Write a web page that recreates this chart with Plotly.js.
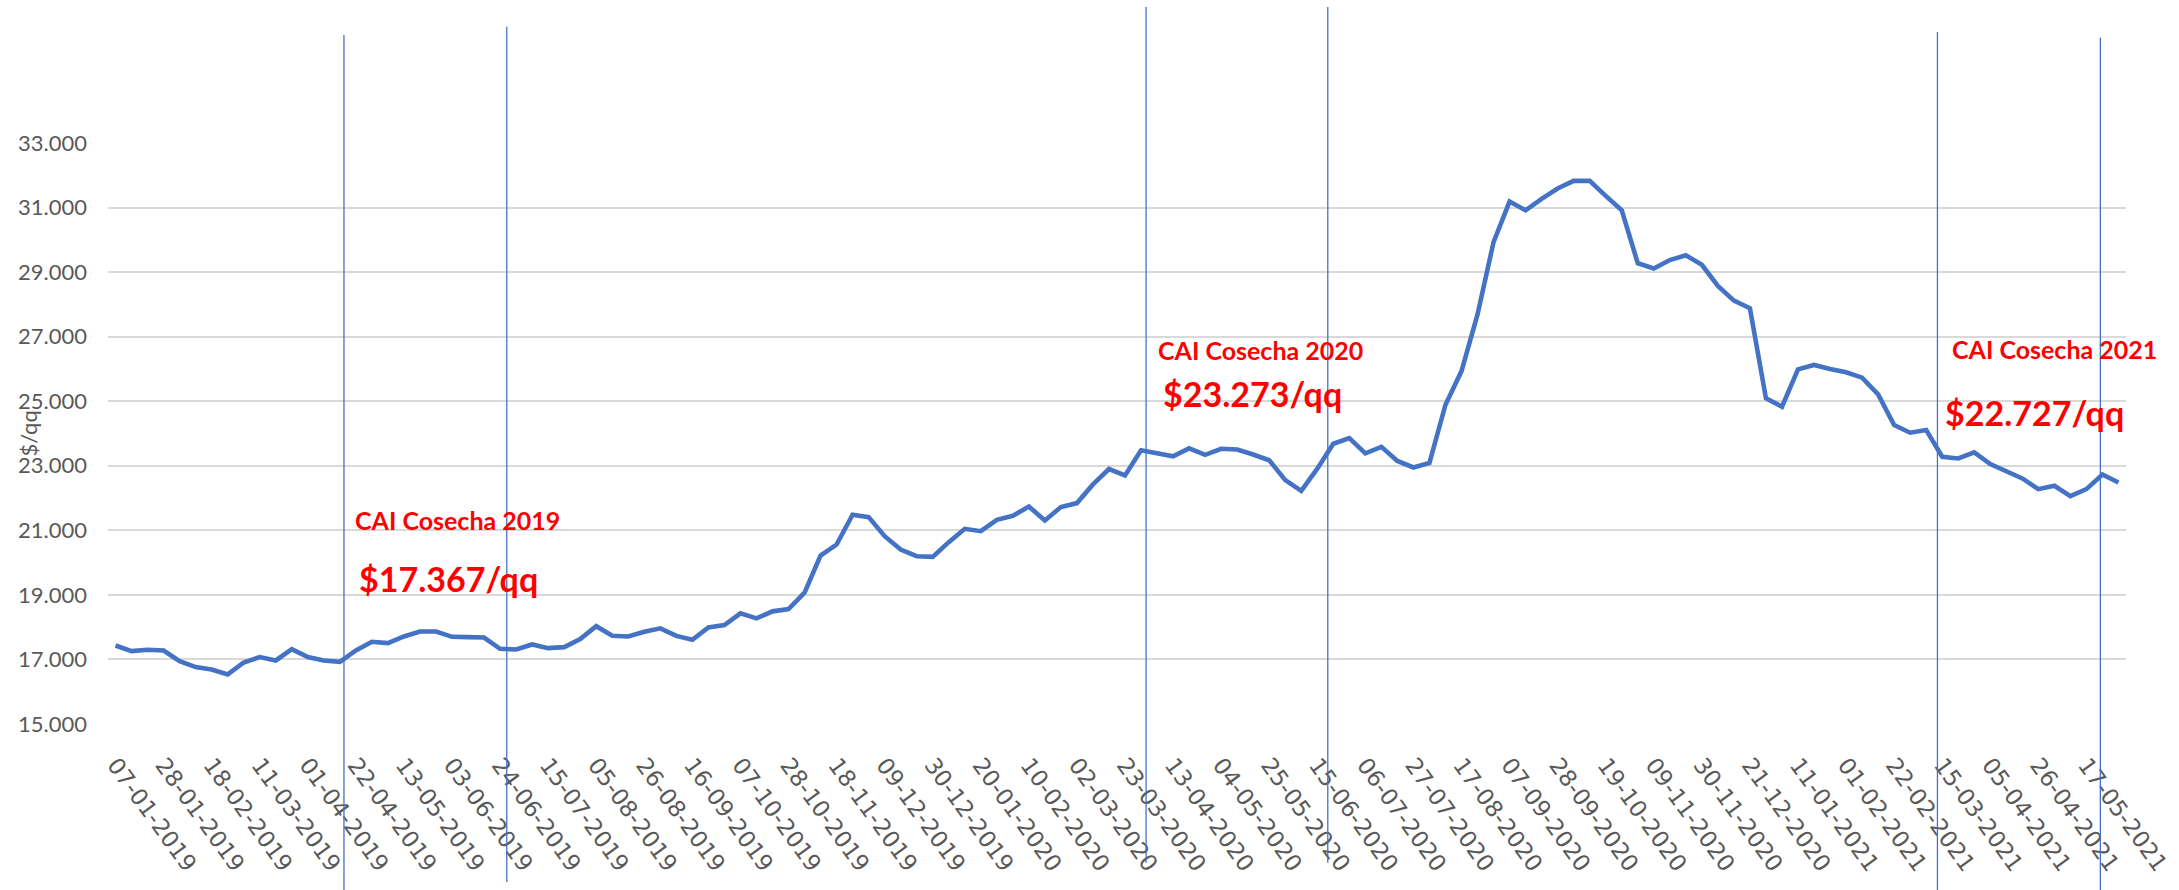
<!DOCTYPE html>
<html>
<head>
<meta charset="utf-8">
<script src="https://cdn.plot.ly/plotly-3.0.1.min.js"></script>
<style>
  html, body { margin: 0; padding: 0; background: #fff; }
  #chart { width: 2179px; height: 890px; }
</style>
</head>
<body>
<div id="chart"></div>
<script>
// weekly price series, $/qq, starting Monday 07-01-2019
const firstWeek = '2019-01-07';
const prices = [
    17433, 17258, 17299, 17278, 16948, 16763, 16690, 16536, 16907, 17072,
    16969, 17320, 17072, 16969, 16928, 17278, 17546, 17505, 17711, 17866,
    17866, 17701, 17691, 17680, 17330, 17309, 17464, 17350, 17381, 17629,
    18031, 17732, 17711, 17856, 17963, 17730, 17610, 17994, 18066, 18428,
    18273, 18490, 18563, 19070, 20219, 20560, 21482, 21409, 20819, 20405,
    20198, 20177, 20633, 21047, 20974, 21326, 21450, 21740, 21306, 21720,
    21844, 22423, 22900, 22700, 23480, 23386, 23291, 23540, 23338, 23528,
    23504, 23350, 23172, 22556, 22224, 22911, 23682, 23860, 23386, 23587,
    23148, 22947, 23089, 24891, 25934, 27689, 29930, 31186, 30914, 31269,
    31589, 31826, 31826, 31364, 30914, 29278, 29112, 29373, 29520, 29225,
    28573, 28118, 27880, 25089, 24830, 25988, 26123, 25999, 25895, 25730,
    25213, 24261, 24024, 24106, 23279, 23227, 23414, 23052, 22845, 22607,
    22276, 22380, 22059, 22276, 22731, 22483
];

// harvest markers (vertical lines) and their labels
const markerDates = [
    '2019-04-16 19:00', '2019-06-26 22:00',
    '2020-04-01 05:00', '2020-06-19 14:00',
    '2021-03-12 22:00', '2021-05-23 02:00'
];
const markerTop = [1.186, 1.200, 1.234, 1.234, 1.191, 1.181];
const markerBottom = [-0.286, -0.272, -0.239, -0.239, -0.286, -0.286];

const harvestTitles = ['CAI Cosecha 2019', 'CAI Cosecha 2020', 'CAI Cosecha 2021'];
const harvestPrices = ['$17.367/qq', '$23.273/qq', '$22.727/qq'];

// build the weekly date categories
const weeks = [];
const d0 = new Date(firstWeek + 'T00:00:00Z');
for (let i = 0; i < prices.length; i++) {
    const d = new Date(d0.getTime() + i * 7 * 86400000);
    weeks.push(d.toISOString().slice(0, 10));
}

const grey = '#595959';
const blue = '#4472C4';

const trace = {
    x: weeks,
    y: prices,
    type: 'scatter',
    mode: 'lines',
    line: { color: blue, width: 4.6 },
    hoverinfo: 'x+y'
};

const shapes = markerDates.map((d, i) => ({
    type: 'line',
    xref: 'x', yref: 'paper',
    x0: d, x1: d,
    y0: markerBottom[i], y1: markerTop[i],
    line: { color: blue, width: 1.3 }
}));

// label positions (paper coords)
const titlePos = [[0.1213, 0.351], [0.5193, 0.644], [0.9128, 0.645]];
const pricePos = [[0.1234, 0.251], [0.5218, 0.568], [0.9093, 0.537]];

const annotations = [];
harvestTitles.forEach((t, i) => {
    annotations.push({
        text: '<b>' + t + '</b>',
        xref: 'paper', yref: 'paper',
        x: titlePos[i][0], y: titlePos[i][1],
        xanchor: 'left', yanchor: 'middle',
        showarrow: false,
        font: { family: 'Lato, sans-serif', size: 25, color: '#FF0000' }
    });
    annotations.push({
        text: '<b>' + harvestPrices[i] + '</b>',
        xref: 'paper', yref: 'paper',
        x: pricePos[i][0], y: pricePos[i][1],
        xanchor: 'left', yanchor: 'middle',
        showarrow: false,
        font: { family: 'Lato, sans-serif', size: 34, color: '#FF0000' }
    });
});

// y-axis title sits over the tick labels, so draw it as an annotation
annotations.push({
    text: '$/qq',
    xref: 'paper', yref: 'paper',
    x: -0.0396, y: 0.5,
    xanchor: 'center', yanchor: 'middle',
    textangle: -90,
    showarrow: false,
    font: { family: 'Lato, sans-serif', size: 22, color: grey }
});

const layout = {
    width: 2179,
    height: 890,
    margin: { l: 108, r: 53, t: 143, b: 166 },
    paper_bgcolor: '#ffffff',
    plot_bgcolor: '#ffffff',
    separators: ',.',
    showlegend: false,
    xaxis: {
        type: 'date',
        range: ['2019-01-03 17:00', '2021-06-03 07:00'],
        tick0: firstWeek,
        dtick: 21 * 86400000,
        tickformat: '%d-%m-%Y',
        tickangle: 54,
        tickfont: { family: 'DejaVu Sans, sans-serif', size: 23, color: grey },
        ticks: '',
        ticklabelstandoff: 22,
        showgrid: false,
        zeroline: false,
        showline: false,
        automargin: false
    },
    yaxis: {
        range: [15000, 33000],
        tick0: 15000,
        dtick: 2000,
        tickformat: ',d',
        tickfont: { family: 'Lato, sans-serif', size: 22, color: grey },
        ticks: '',
        ticklabelstandoff: 20,
        gridcolor: '#d9d9d9',
        gridwidth: 2,
        zeroline: false,
        showline: false,
        automargin: false
    },
    shapes: shapes,
    annotations: annotations
};

Plotly.newPlot('chart', [trace], layout, { displayModeBar: false, staticPlot: true });
</script>
</body>
</html>
